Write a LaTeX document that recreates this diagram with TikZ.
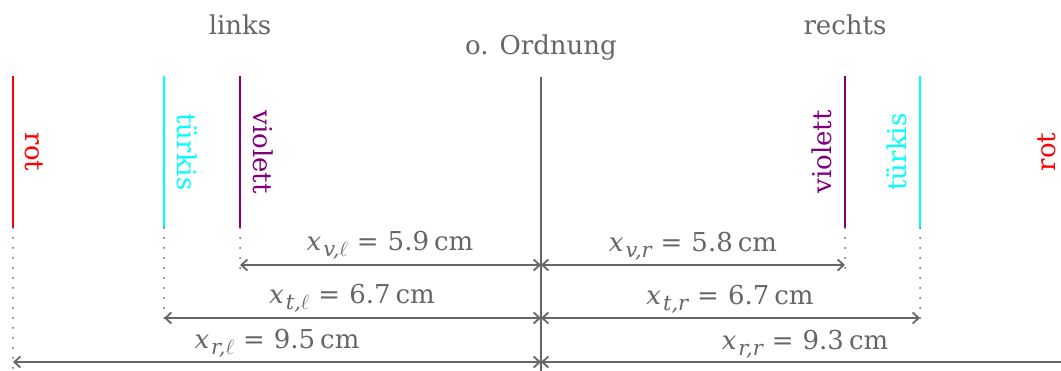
\documentclass[tikz,border=0pt]{standalone}
\usepackage{fontspec}
\setmainfont{DejaVu Serif}
\usetikzlibrary{arrows.meta}
\definecolor{txtgray}{RGB}{102,102,102}
\definecolor{viol}{RGB}{128,0,128}
\definecolor{tuerk}{RGB}{0,255,255}
\definecolor{rotc}{RGB}{255,0,0}
\newcommand{\ellsym}{$\ell$}
\newcommand{\dimlab}[2]{{\itshape x}\kern2pt\raisebox{-6pt}{\fontsize{21}{22}\selectfont\itshape #1}\kern9pt=\kern9pt#2\kern5pt cm}
\begin{document}
\begin{tikzpicture}[x=1pt,y=-1pt,
  every node/.style={inner sep=0pt, outer sep=0pt},
  lbl/.style={font=\fontsize{26}{30}\selectfont},
  graytxt/.style={lbl, text=txtgray},
  colline/.style={line width=2pt},
  dots/.style={draw=txtgray, line width=2pt, line cap=round, dash pattern=on 0pt off 10pt},
  dimline/.style={draw=txtgray, line width=1.8pt, {Straight Barb[length=6pt,width=11pt]}-{Straight Barb[length=6pt,width=11pt]}},
]
\useasboundingbox (0,0) rectangle (1061,371);
\clip (0,0) rectangle (1061,371);

% centre line
\coordinate (ctop) at (541,77);
\coordinate (cbot) at (541,372);
\draw[draw=txtgray, line width=1.8pt] (ctop) -- (cbot);
\node[graytxt, anchor=base] (ord) at (541,55) {o. Ordnung};
\node[graytxt, anchor=base] (links) at (240,35) {links};
\node[graytxt, anchor=base] (rechts) at (845,35) {rechts};

% coloured lines (top, bottom, dotted end)
\coordinate (rLt) at (13,76);  \coordinate (rLb) at (13,228);  \coordinate (rLd) at (13,372);
\coordinate (tLt) at (164,76); \coordinate (tLb) at (164,228); \coordinate (tLd) at (164,327);
\coordinate (vLt) at (240,76); \coordinate (vLb) at (240,228); \coordinate (vLd) at (240,277);
\coordinate (vRt) at (845,76); \coordinate (vRb) at (845,228); \coordinate (vRd) at (845,277);
\coordinate (tRt) at (920,76); \coordinate (tRb) at (920,228); \coordinate (tRd) at (920,327);
\coordinate (rRt) at (1069,76); \coordinate (rRb) at (1069,228); \coordinate (rRd) at (1069,372);

\draw[rotc, colline] (rLt) -- (rLb);
\draw[tuerk, colline] (tLt) -- (tLb);
\draw[viol, colline] (vLt) -- (vLb);
\draw[viol, colline] (vRt) -- (vRb);
\draw[tuerk, colline] (tRt) -- (tRb);
\draw[rotc, colline] (rRt) -- (rRb);

\draw[dots] (rLb) -- (rLd);
\draw[dots] (tLb) -- (tLd);
\draw[dots] (vLb) -- (vLd);
\draw[dots] (vRb) -- (vRd);
\draw[dots] (tRb) -- (tRd);
\draw[dots] (rRb) -- (rRd);

% colour labels
\node[lbl, text=rotc, rotate=-90, anchor=south] (rLl) at (25,152) {rot};
\node[lbl, text=tuerk, rotate=-90, anchor=south] (tLl) at (177,152) {türkis};
\node[lbl, text=viol, rotate=-90, anchor=south] (vLl) at (253,152) {violett};
\node[lbl, text=viol, rotate=90, anchor=south] (vRl) at (832,152) {violett};
\node[lbl, text=tuerk, rotate=90, anchor=south] (tRl) at (907,152) {türkis};
\node[lbl, text=rotc, rotate=90, anchor=south] (rRl) at (1056,152) {rot};

% dimension rows
\coordinate (vLa) at (240,265); \coordinate (cv) at (541,265); \coordinate (vRa) at (845,265);
\coordinate (tLa) at (164,318); \coordinate (ct) at (541,318); \coordinate (tRa) at (920,318);
\coordinate (rLa) at (13,362);  \coordinate (cr) at (541,362); \coordinate (rRa) at (1069,362);

\draw[dimline] (vLa) -- (cv);
\draw[dimline] (cv) -- (vRa);
\draw[dimline] (tLa) -- (ct);
\draw[dimline] (ct) -- (tRa);
\draw[dimline] (rLa) -- (cr);
\draw[dimline] (cr) -- (rRa);

\node[graytxt, anchor=base] (dvl) at (390,251) {\dimlab{v,\ellsym}{5.9}};
\node[graytxt, anchor=base] (dvr) at (693,252) {\dimlab{v,r}{5.8}};
\node[graytxt, anchor=base] (dtl) at (352,304) {\dimlab{t,\ellsym}{6.7}};
\node[graytxt, anchor=base] (dtr) at (730,305) {\dimlab{t,r}{6.7}};
\node[graytxt, anchor=base] (drl) at (277,349) {\dimlab{r,\ellsym}{9.5}};
\node[graytxt, anchor=base] (drr) at (805,350) {\dimlab{r,r}{9.3}};
\end{tikzpicture}
\end{document}
